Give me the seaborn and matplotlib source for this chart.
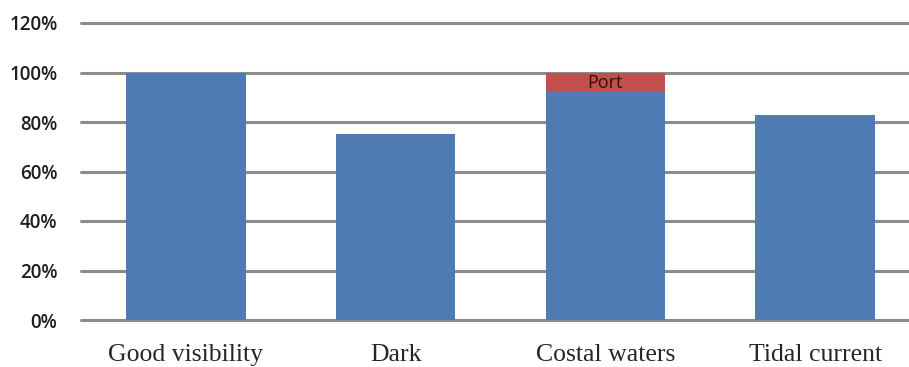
import matplotlib.pyplot as plt
import pandas as pd
import seaborn as sns
from matplotlib.ticker import PercentFormatter

categories = ["Good visibility", "Dark", "Costal waters", "Tidal current"]
base_share = [100, 75, 92, 83]
port_share = [0, 0, 8, 0]
y_ticks = [0, 20, 40, 60, 80, 100, 120]

df = pd.DataFrame({"category": categories, "base": base_share, "port": port_share})
df["total"] = df["base"] + df["port"]

sns.set_style("white")
fig = plt.figure(figsize=(9.09, 3.67), dpi=100)
ax = fig.add_axes([81 / 909, 47 / 367, 839 / 909, 297 / 367])

sns.barplot(data=df, x="category", y="total", color="#C0504D", width=0.57,
            saturation=1, linewidth=0, ax=ax, zorder=3)
sns.barplot(data=df, x="category", y="base", color="#4F7BB5", width=0.57,
            saturation=1, linewidth=0, ax=ax, zorder=4)

for i, row in df.iterrows():
    if row["port"] > 0:
        ax.text(i, row["base"] + row["port"] / 2 - 0.3, "Port", ha="center", va="center",
                fontsize=13, color="#3A0A0A", family="Open Sans", zorder=5)

ax.set_ylim(0, 120)
ax.set_xlim(-0.5, 3.5)
ax.set_yticks(y_ticks)
ax.yaxis.set_major_formatter(PercentFormatter(decimals=0))
for t in y_ticks:
    ax.axhline(t, color="#8C8C8C", linewidth=2.2, zorder=1, clip_on=False)
sns.despine(ax=ax, left=True, bottom=True, top=True, right=True)
ax.tick_params(axis="y", length=0, pad=17, labelsize=13.5, labelcolor="#1E1E1E")
ax.tick_params(axis="x", length=0, pad=17, labelsize=18.5)
for lbl in ax.get_yticklabels():
    lbl.set_family("Open Sans")
    lbl.set_weight("semibold")
for lbl in ax.get_xticklabels():
    lbl.set_family("Liberation Serif")
ax.set_xlabel("")
ax.set_ylabel("")

fig.savefig("out.png", dpi=100)
